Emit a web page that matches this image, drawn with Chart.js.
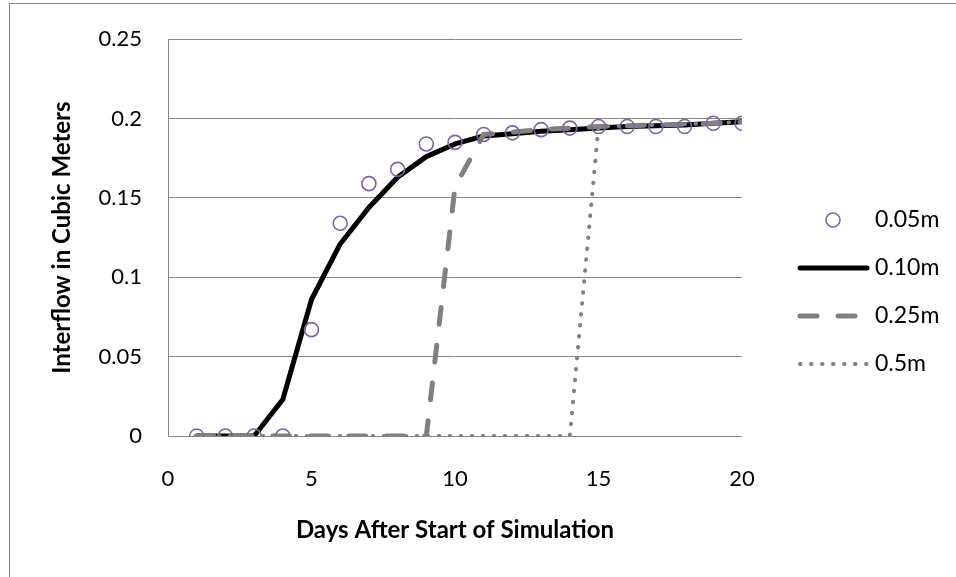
<!DOCTYPE html>
<html>
<head>
<meta charset="utf-8">
<script src="https://cdn.jsdelivr.net/npm/chart.js@4/dist/chart.umd.min.js"></script>
<style>
    html, body { margin: 0; padding: 0; background: #fff; }
    #wrap { width: 956px; height: 577px; position: relative; }
</style>
</head>
<body>
<div id="wrap"><canvas id="chart" width="956" height="577"></canvas></div>
<script>
// Data
const days = [1, 2, 3, 4, 5, 6, 7, 8, 9, 10, 11, 12, 13, 14, 15, 16, 17, 18, 19, 20];
const depth005 = [0, 0, 0, 0, 0.067, 0.134, 0.159, 0.168, 0.184, 0.185, 0.19, 0.191, 0.193, 0.194, 0.195, 0.195, 0.195, 0.195, 0.197, 0.197];
const depth010 = [0, 0, 0, 0.023, 0.086, 0.121, 0.144, 0.163, 0.176, 0.184, 0.189, 0.1905, 0.192, 0.193, 0.194, 0.195, 0.1955, 0.196, 0.197, 0.198];
const depth025 = [0, 0, 0, 0, 0, 0, 0, 0, 0, 0.157, 0.19, 0.1915, 0.193, 0.194, 0.195, 0.1955, 0.196, 0.1965, 0.197, 0.198];
const depth050 = [0, 0, 0, 0, 0, 0, 0, 0, 0, 0, 0, 0, 0, 0, 0.195, 0.1955, 0.196, 0.1965, 0.197, 0.198];
const seriesNames = ['0.05m', '0.10m', '0.25m', '0.5m'];
const xTicks = [0, 5, 10, 15, 20];
const yTicks = [0, 0.05, 0.1, 0.15, 0.2, 0.25];

const FONT = 'Lato';
const gridColor = '#868686';

function toPoints(values) {
    return days.map((d, i) => ({ x: d, y: values[i] }));
}

// legend drawn by hand so the line samples look like the original
const sideLegend = {
    id: 'sideLegend',
    afterDraw(chart) {
        const ctx = chart.ctx;
        ctx.save();
        // outer chart border
        ctx.strokeStyle = gridColor;
        ctx.lineWidth = 1;
        ctx.strokeRect(9.5, 3.5, 960, 590);

        chart.data.datasets.forEach((ds, i) => {
            const y = 220 + i * 48;
            if (ds.showLine === false) {
                ctx.beginPath();
                ctx.arc(833, y, ds.pointRadius, 0, Math.PI * 2);
                ctx.strokeStyle = ds.pointBorderColor;
                ctx.lineWidth = ds.pointBorderWidth;
                ctx.stroke();
            } else {
                ctx.beginPath();
                ctx.setLineDash(ds.borderDash || []);
                ctx.lineCap = ds.borderCapStyle || 'butt';
                ctx.strokeStyle = ds.borderColor;
                ctx.lineWidth = ds.borderWidth;
                ctx.moveTo(800, y);
                ctx.lineTo(867, y);
                ctx.stroke();
                ctx.setLineDash([]);
            }
            ctx.fillStyle = '#000';
            ctx.font = '23px ' + FONT;
            ctx.textBaseline = 'middle';
            ctx.textAlign = 'left';
            ctx.fillText(ds.label, 875, y);
        });
        ctx.restore();
    }
};

const ctx = document.getElementById('chart').getContext('2d');
new Chart(ctx, {
    type: 'line',
    data: {
        datasets: [
            {
                label: seriesNames[0],
                data: toPoints(depth005),
                showLine: false,
                pointStyle: 'circle',
                pointRadius: 7,
                pointBorderWidth: 1.6,
                pointBorderColor: '#7F63A1',
                pointBackgroundColor: 'rgba(0,0,0,0)',
                borderColor: '#7F63A1',
                order: 0
            },
            {
                label: seriesNames[1],
                data: toPoints(depth010),
                borderColor: '#000000',
                borderWidth: 5,
                borderCapStyle: 'round',
                borderJoinStyle: 'round',
                pointRadius: 0,
                tension: 0,
                order: 3
            },
            {
                label: seriesNames[2],
                data: toPoints(depth025),
                borderColor: '#808080',
                borderWidth: 5,
                borderDash: [17, 21],
                borderCapStyle: 'round',
                pointRadius: 0,
                tension: 0,
                order: 2
            },
            {
                label: seriesNames[3],
                data: toPoints(depth050),
                borderColor: '#808080',
                borderWidth: 4,
                borderDash: [0.5, 10.5],
                borderCapStyle: 'round',
                pointRadius: 0,
                tension: 0,
                order: 1
            }
        ]
    },
    options: {
        responsive: false,
        animation: false,
        events: [],
        layout: { padding: { top: 34, right: 214, bottom: 0, left: 0 } },
        plugins: {
            legend: { display: false },
            tooltip: { enabled: false }
        },
        scales: {
            x: {
                type: 'linear',
                min: 0,
                max: 20,
                afterBuildTicks: (scale) => { scale.ticks = xTicks.map(v => ({ value: v })); },
                afterFit: (scale) => { scale.height = 141; },
                grid: { display: false, drawTicks: false },
                border: { display: false },
                ticks: {
                    color: '#000',
                    padding: 30,
                    font: { family: FONT, size: 22 },
                    maxRotation: 0,
                    callback: (v) => String(v)
                },
                title: {
                    display: true,
                    text: 'Days After Start of Simulation',
                    color: '#000',
                    font: { family: FONT, size: 24, weight: 'bold' },
                    padding: { top: 0, bottom: 32 }
                }
            },
            y: {
                min: 0,
                max: 0.25,
                afterBuildTicks: (scale) => { scale.ticks = yTicks.map(v => ({ value: v })); },
                afterFit: (scale) => { scale.width = 168; },
                grid: { color: gridColor, lineWidth: 1, drawTicks: false },
                border: { display: true, color: gridColor, width: 1 },
                ticks: {
                    color: '#000',
                    padding: 26,
                    font: { family: FONT, size: 22 },
                    callback: (v) => String(v)
                },
                title: {
                    display: true,
                    text: 'Interflow in Cubic Meters',
                    color: '#000',
                    font: { family: FONT, size: 24, weight: 'bold' },
                    padding: { top: 48, bottom: 0 }
                }
            }
        }
    },
    plugins: [sideLegend]
});
</script>
</body>
</html>
